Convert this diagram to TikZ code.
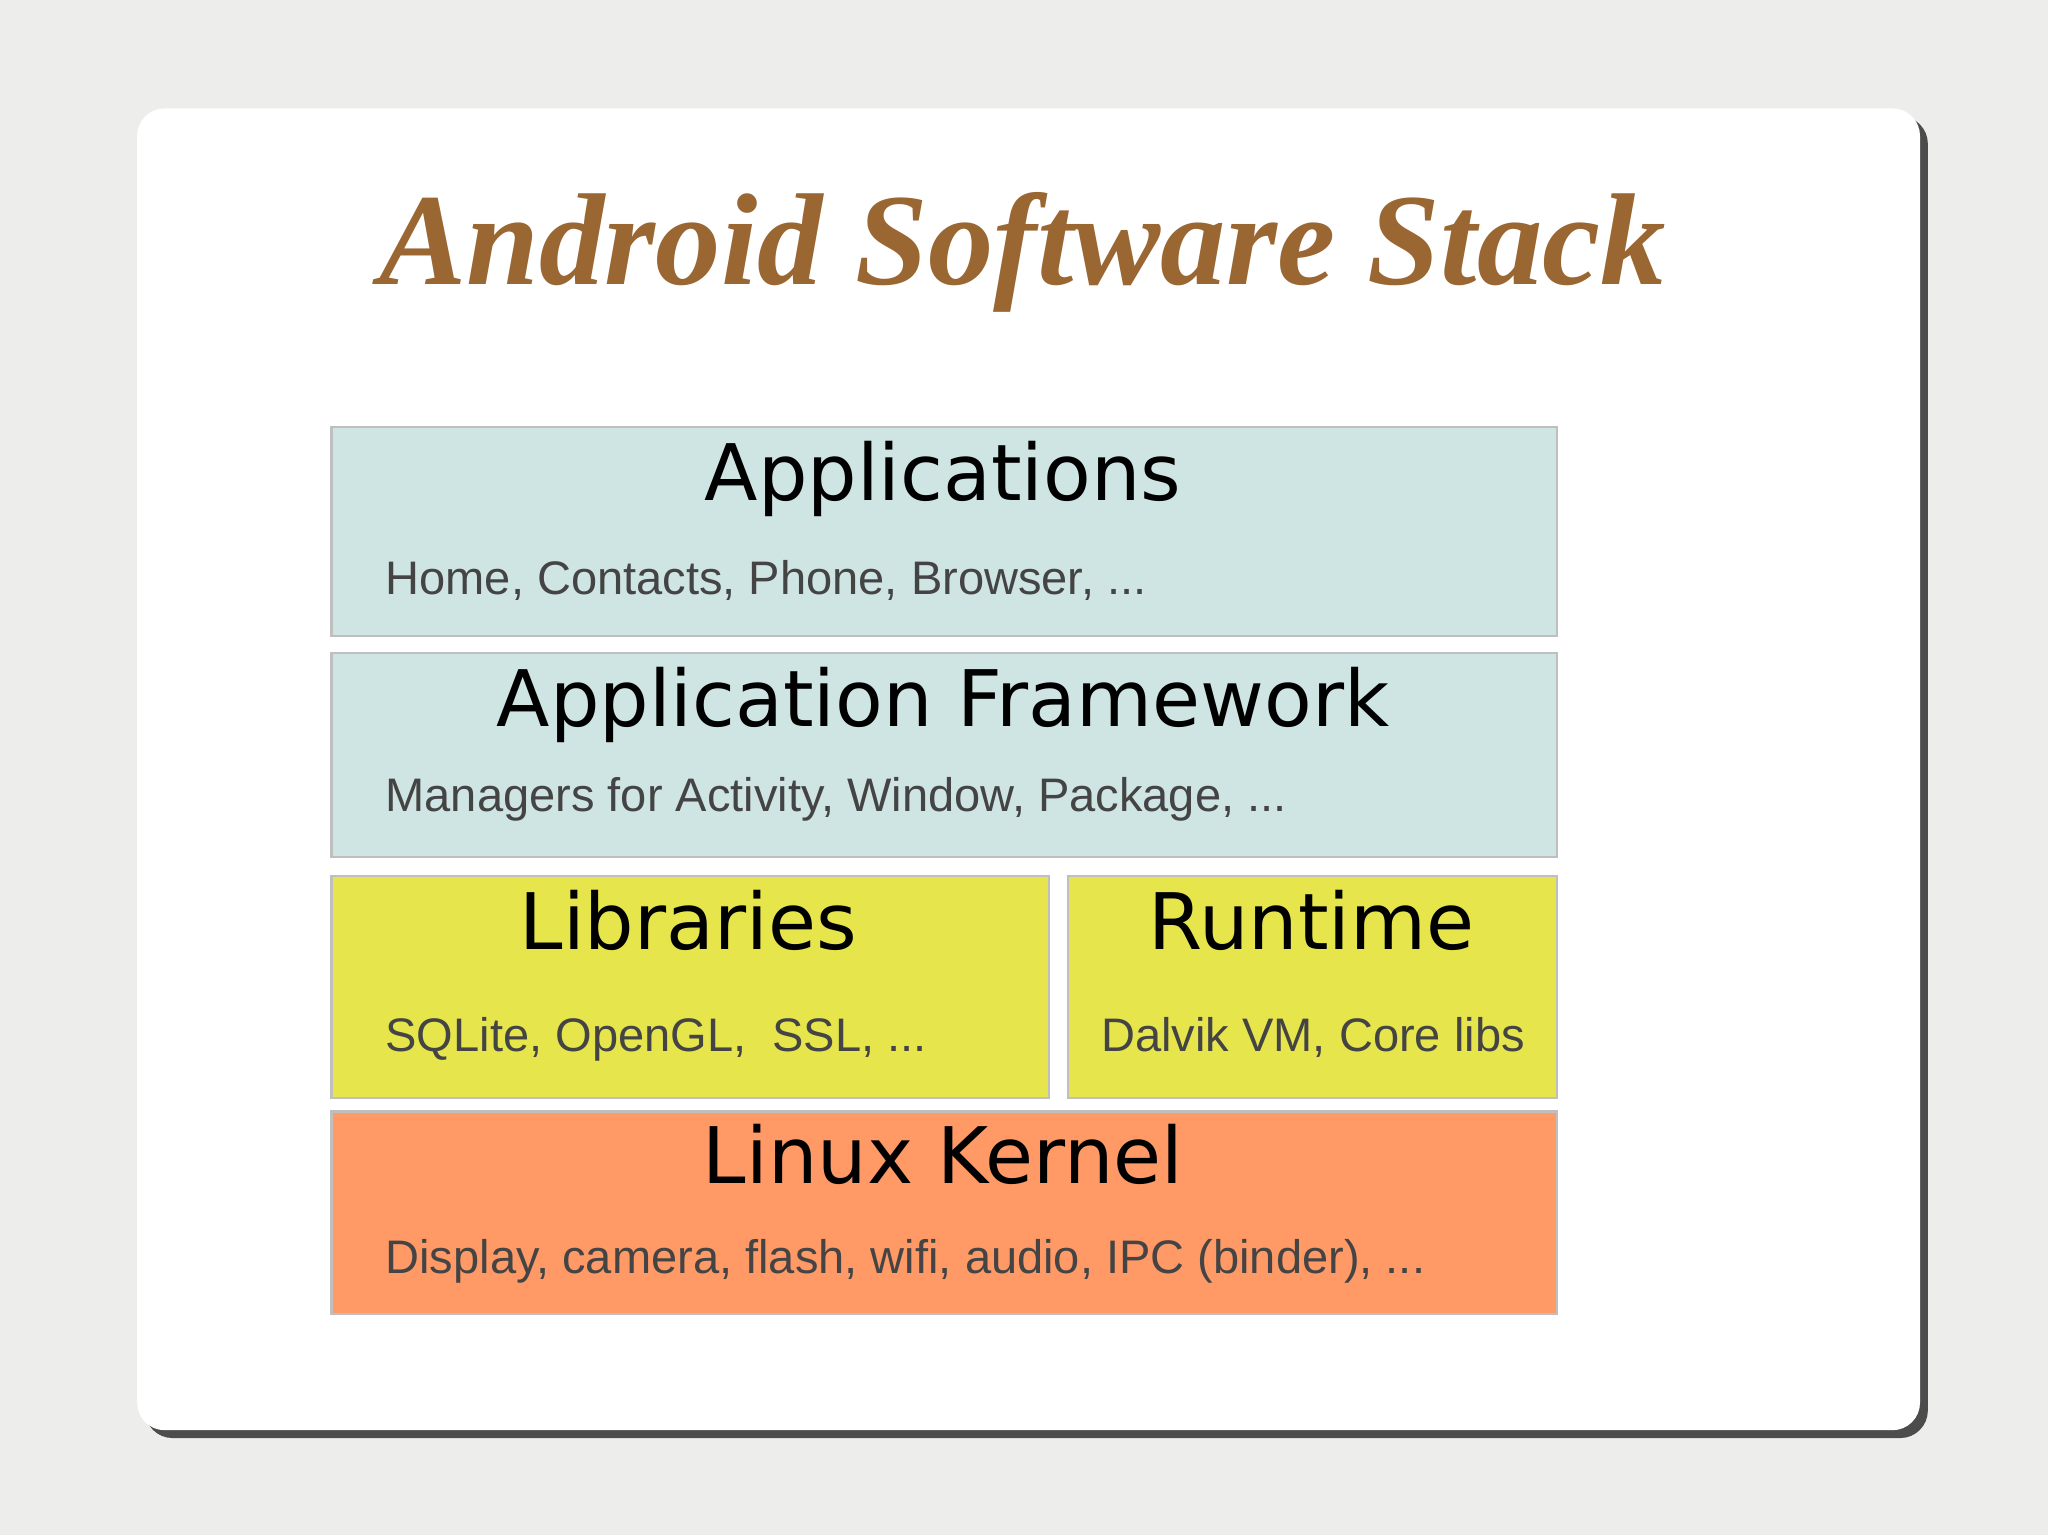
\documentclass[tikz,border=0pt]{standalone}
\usepackage{fontspec}
\setmainfont{Liberation Serif}
\setsansfont{Liberation Sans}
\newfontfamily\dejavu{DejaVu Sans}
\usetikzlibrary{positioning}
\definecolor{bgColor}{HTML}{EDEDEB}
\definecolor{titleColor}{HTML}{9A6632}
\definecolor{appColor}{HTML}{CFE5E3}
\definecolor{libColor}{HTML}{E6E54C}
\definecolor{kerColor}{HTML}{FF9966}
\definecolor{subColor}{HTML}{444444}
\tikzset{
	layer/.style={draw=black!25, line width=1pt, anchor=north west, inner sep=0},
	head/.style={font=\dejavu\fontsize{34}{40}\selectfont, anchor=base},
	sub/.style={font=\sffamily\fontsize{20.5}{24}\selectfont, text=subColor, anchor=base west}
}
\newcommand{\layerbox}[6]{%
	\node[layer, fill=#6, minimum width=#4*0.02cm, minimum height=#5*0.02cm] (#1) at (#2,#3) {};}

\begin{document}
\begin{tikzpicture}[x=0.02cm, y=-0.02cm]
	\fill[bgColor] (0,0) rectangle (1568,1175);
	\useasboundingbox (0,0) rectangle (1568,1175);
	% card with shadow
	\fill[black!70, rounded corners=12] (111,89) rectangle (1476,1101);
	\fill[white, rounded corners=12] (105,83) rectangle (1470,1095);
	\node[font=\bfseries\itshape\fontsize{57}{64}\selectfont, text=titleColor, anchor=base] (title) at (783,218) {Android Software Stack};
	% layers
	\layerbox{apps}{253}{326}{938}{160}{appColor}
	\layerbox{fw}{253}{499}{938}{156}{appColor}
	\layerbox{libs}{253}{670}{549}{170}{libColor}
	\layerbox{rt}{817}{670}{374}{170}{libColor}
	\layerbox{kern}{253}{850}{938}{155}{kerColor}
	\node[head] (appsH) at (722,383) {Applications};
	\node[sub] (appsS) at (289,455) {Home, Contacts, Phone, Browser, ...};
	\node[head] (fwH) at (722,556) {Application Framework};
	\node[sub] (fwS) at (289,621) {Managers for Activity, Window, Package, ...};
	\node[head] (libsH) at (527,727) {Libraries};
	\node[sub] (libsS) at (289,805) {SQLite, OpenGL,\ \ SSL, ...};
	\node[head] (rtH) at (1004,727) {Runtime};
	\node[sub] (rtS) at (837,805) {Dalvik VM, Core libs};
	\node[head] (kernH) at (722,906) {Linux Kernel};
	\node[sub] (kernS) at (289,975) {Display, camera, flash, wifi, audio, IPC (binder), ...};
\end{tikzpicture}
\end{document}
